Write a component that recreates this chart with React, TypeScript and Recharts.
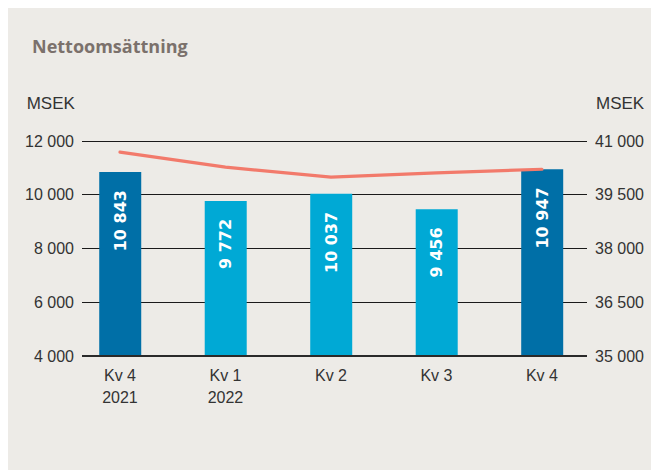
import React from "react";
import {
  ComposedChart,
  Bar,
  Line,
  XAxis,
  YAxis,
  CartesianGrid,
  Cell,
} from "recharts";

const categories = ["Kv 4\n2021", "Kv 1\n2022", "Kv 2", "Kv 3", "Kv 4"];
const quarterly = [10843, 9772, 10037, 9456, 10947];
const rolling12 = [40690, 40270, 39990, 40108, 40212];
const barColors = ["#006FA7", "#00A9D5", "#00A9D5", "#00A9D5", "#006FA7"];
const leftTicks = [4000, 6000, 8000, 10000, 12000];
const rightTicks = [35000, 36500, 38000, 39500, 41000];

const data = categories.map((c, i) => ({
  idx: i,
  name: c,
  quarterly: quarterly[i],
  rolling: rolling12[i],
}));

const fmt = (n: number) =>
  String(n).replace(/\B(?=(\d{3})+(?!\d))/g, " ");

const AXIS_FONT = "'Liberation Sans', Arial, sans-serif";

const XTick = (props: any) => {
  const { x, y, payload } = props;
  const lines = String(categories[payload.value] ?? "").split("\n");
  return (
    <text
      x={x}
      y={y}
      textAnchor="middle"
      fill="#333"
      fontSize={16}
      fontFamily={AXIS_FONT}
    >
      {lines.map((l, i) => (
        <tspan key={i} x={x} dy={i === 0 ? 24.7 : 22.6}>
          {l}
        </tspan>
      ))}
    </text>
  );
};

const BarLabel = (props: any) => {
  const { x, y, width, value } = props;
  const cx = x + width / 2;
  const ty = y + 18;
  return (
    <text
      x={cx}
      y={ty}
      transform={`rotate(-90, ${cx}, ${ty})`}
      textAnchor="end"
      dominantBaseline="central"
      fill="#ffffff"
      fontSize={16}
      fontWeight={700}
      fontFamily="'DejaVu Sans', sans-serif"
    >
      {fmt(value)}
    </text>
  );
};

export default function App() {
  return (
    <div
      style={{
        position: "relative",
        width: 651,
        height: 462,
        background: "#EDEBE7",
      }}
    >
      <style>{`html,body{overflow:hidden}`}</style>
      <ComposedChart
        width={651}
        height={462}
        data={data}
        margin={{ top: 133, right: 12, left: 14, bottom: 84 }}
      >
        <CartesianGrid
          yAxisId="left"
          vertical={false}
          stroke="#1a1a1a"
          strokeWidth={1}
          shapeRendering="crispEdges"
        />
        <XAxis
          dataKey="idx"
          type="number"
          domain={[-0.36, 4.427]}
          ticks={[0, 1, 2, 3, 4]}
          tick={<XTick />}
          tickLine={false}
          tickSize={0}
          tickMargin={0}
          axisLine={{ stroke: "#2a2a2a", strokeWidth: 2 }}
          height={30}
          interval={0}
        />
        <YAxis
          yAxisId="left"
          domain={[4000, 12000]}
          ticks={leftTicks}
          tickFormatter={fmt}
          axisLine={false}
          tickLine={false}
          tickSize={0}
          tickMargin={8}
          width={60}
          tick={{ fill: "#333", fontSize: 16, fontFamily: AXIS_FONT }}
        />
        <YAxis
          yAxisId="right"
          orientation="right"
          domain={[35000, 41000]}
          ticks={rightTicks}
          tickFormatter={fmt}
          axisLine={false}
          tickLine={false}
          tickSize={0}
          tickMargin={8}
          width={60}
          tick={{ fill: "#333", fontSize: 16, fontFamily: AXIS_FONT }}
        />
        <Bar
          yAxisId="left"
          dataKey="quarterly"
          barSize={42}
          isAnimationActive={false}
          label={<BarLabel />}
        >
          {data.map((d, i) => (
            <Cell key={i} fill={barColors[i]} />
          ))}
        </Bar>
        <Line
          yAxisId="right"
          dataKey="rolling"
          type="linear"
          stroke="#F27A6B"
          strokeWidth={3.2}
          dot={false}
          activeDot={false}
          strokeLinecap="round"
          isAnimationActive={false}
        />
      </ComposedChart>
      <svg
        width={651}
        height={462}
        style={{ position: "absolute", left: 0, top: 0, pointerEvents: "none" }}
      >
        <text
          x={24}
          y={44.7}
          fill="#7B716C"
          fontSize={18}
          fontWeight={700}
          fontFamily="'Open Sans', sans-serif"
        >
          Nettoomsättning
        </text>
        <text x={18.7} y={101.3} fill="#333" fontSize={17} fontFamily={AXIS_FONT}>
          MSEK
        </text>
        <text x={588} y={101.3} fill="#333" fontSize={17} fontFamily={AXIS_FONT}>
          MSEK
        </text>
      </svg>
    </div>
  );
}
